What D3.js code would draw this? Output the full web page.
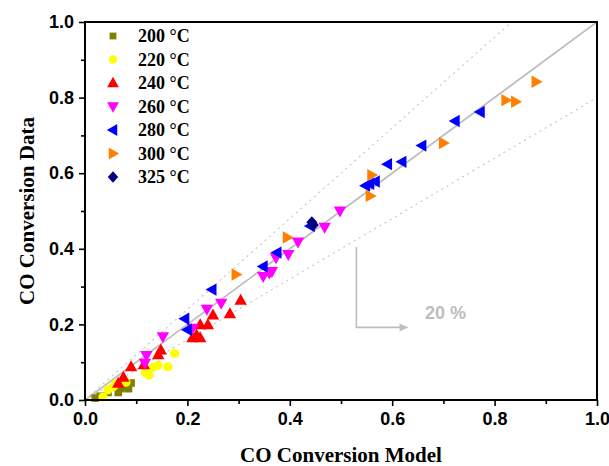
<!DOCTYPE html>
<html><head><meta charset="utf-8">
<script src="https://cdn.jsdelivr.net/npm/d3@7"></script>
<style>body{margin:0;background:#fff}</style>
</head><body>
<script>
// ---- data ----
const seriesNames = ["200 °C","220 °C","240 °C","260 °C","280 °C","300 °C","325 °C"];
const seriesColors = ["#808000","#ffff00","#ff0000","#ff00ff","#0000ff","#ff8000","#000080"];
const seriesShapes = ["square","circle","up","down","left","right","diamond"];
const xTickValues = [0,0.2,0.4,0.6,0.8,1.0];
const minorTickValues = [0.1,0.3,0.5,0.7,0.9];

const data200 = [[0.02,0.005],[0.03,0.01],[0.045,0.02],[0.065,0.02],[0.07,0.03],[0.08,0.035],[0.085,0.03],[0.09,0.045],[0.075,0.04]];
const data220 = [[0.035,0.008],[0.045,0.027],[0.055,0.035],[0.06,0.042],[0.08,0.047],[0.118,0.072],[0.125,0.066],[0.133,0.087],[0.143,0.091],[0.162,0.088],[0.175,0.123],[0.12,0.08]];
const data240 = [[0.065,0.044],[0.075,0.06],[0.09,0.088],[0.115,0.093],[0.143,0.12],[0.148,0.132],[0.21,0.165],[0.218,0.172],[0.225,0.165],[0.225,0.199],[0.24,0.199],[0.25,0.225],[0.283,0.228],[0.304,0.264]];
const data260 = [[0.117,0.097],[0.12,0.118],[0.152,0.167],[0.21,0.19],[0.238,0.24],[0.266,0.256],[0.348,0.327],[0.36,0.336],[0.365,0.34],[0.373,0.376],[0.397,0.385],[0.416,0.418],[0.468,0.457],[0.498,0.5]];
const data280 = [[0.195,0.215],[0.2,0.186],[0.248,0.292],[0.348,0.353],[0.375,0.39],[0.44,0.46],[0.548,0.567],[0.556,0.572],[0.567,0.578],[0.591,0.624],[0.619,0.63],[0.658,0.673],[0.723,0.738],[0.772,0.762]];
const data300 = [[0.295,0.332],[0.395,0.43],[0.557,0.54],[0.56,0.595],[0.7,0.68],[0.822,0.793],[0.841,0.789],[0.881,0.842]];
const data325 = [[0.443,0.47],[0.446,0.463]];
const allData = [data200,data220,data240,data260,data280,data300,data325];

// ---- layout ----
const W = 609, H = 466;
const x = d3.scaleLinear().domain([0,1]).range([85,597]);
const y = d3.scaleLinear().domain([0,1]).range([400,22]);

const svg = d3.select("body").append("svg").attr("width",W).attr("height",H);

function shapePath(shape){
  switch(shape){
    case "square": return "M-3.8,-3.8h7.6v7.6h-7.6Z";
    case "circle": return "M4.6,0A4.6,4.6 0 1 1 -4.6,0A4.6,4.6 0 1 1 4.6,0Z";
    case "up": return "M0,-6.5L6.2,4.5L-6.2,4.5Z";
    case "down": return "M0,6.5L6.2,-4.5L-6.2,-4.5Z";
    case "left": return "M-6.5,0L4.5,-6.2L4.5,6.2Z";
    case "right": return "M6.5,0L-4.5,-6.2L-4.5,6.2Z";
    case "diamond": return "M0,-6L5.5,0L0,6L-5.5,0Z";
  }
}

// reference lines
const g = svg.append("g");
g.append("clipPath").attr("id","clip").append("rect")
  .attr("x",x(0)).attr("y",y(1)).attr("width",x(1)-x(0)).attr("height",y(0)-y(1));
const refs = [{k:1.2,dash:"2,4",col:"#c8c8c8",w:1.2},{k:0.8,dash:"2,4",col:"#c8c8c8",w:1.2},{k:1,dash:null,col:"#bdbdbd",w:1.8}];
refs.forEach(r=>{
  g.append("line").attr("clip-path","url(#clip)")
   .attr("x1",x(0)).attr("y1",y(0)).attr("x2",x(1)).attr("y2",y(r.k))
   .attr("stroke",r.col).attr("stroke-width",r.w).attr("stroke-dasharray",r.dash);
});

// 20 % annotation
const ann = svg.append("g").attr("stroke","#bdbdbd").attr("stroke-width",1.6).attr("fill","none");
ann.append("path").attr("d",`M${x(0.53)},${y(0.405)}V${y(0.192)}H${x(0.63)}`);
ann.append("path").attr("d",`M${x(0.63)-8},${y(0.192)-4}L${x(0.63)},${y(0.192)}L${x(0.63)-8},${y(0.192)+4}`).attr("fill","#bdbdbd").attr("stroke","none");
svg.append("text").attr("x",x(0.664)).attr("y",y(0.232)).attr("dy","0.35em")
  .attr("font-family","Arial, Liberation Sans, sans-serif").attr("font-weight","bold")
  .attr("font-size",18).attr("fill","#bdbdbd").text("20 %");

// points
allData.forEach((arr,i)=>{
  svg.append("g").selectAll("path").data(arr).join("path")
    .attr("transform",d=>`translate(${x(d[0])},${y(d[1])})`)
    .attr("d",shapePath(seriesShapes[i]))
    .attr("fill",seriesColors[i]);
});

// axes
const fmt = d3.format(".1f");
const axFont = "Arial, Liberation Sans, sans-serif";
const xAxis = svg.append("g").attr("transform",`translate(0,${y(0)})`)
  .call(d3.axisBottom(x).tickValues(xTickValues).tickFormat(fmt).tickSize(6).tickPadding(6).tickSizeOuter(0));
const xMinor = svg.append("g").attr("transform",`translate(0,${y(0)})`)
  .call(d3.axisBottom(x).tickValues(minorTickValues).tickFormat("").tickSize(4).tickSizeOuter(0));
const yAxis = svg.append("g").attr("transform",`translate(${x(0)},0)`)
  .call(d3.axisLeft(y).tickValues(xTickValues).tickFormat(fmt).tickSize(6).tickPadding(5).tickSizeOuter(0));
const yMinor = svg.append("g").attr("transform",`translate(${x(0)},0)`)
  .call(d3.axisLeft(y).tickValues(minorTickValues).tickFormat("").tickSize(4).tickSizeOuter(0));
[xAxis,xMinor,yAxis,yMinor].forEach(a=>{
  a.select(".domain").remove();
  a.selectAll("line").attr("stroke","#000").attr("stroke-width",1.6);
  a.selectAll("text").attr("font-family",axFont).attr("font-weight","bold").attr("font-size",18).attr("fill","#000");
});

// frame
svg.append("rect").attr("x",x(0)).attr("y",y(1)).attr("width",x(1)-x(0)).attr("height",y(0)-y(1))
  .attr("fill","none").attr("stroke","#000").attr("stroke-width",2);

// axis titles
const serif = "'Liberation Serif','Times New Roman',serif";
svg.append("text").attr("x",(x(0)+x(1))/2).attr("y",462).attr("text-anchor","middle")
  .attr("font-family",serif).attr("font-weight","bold").attr("font-size",21).text("CO Conversion Model");
svg.append("text").attr("transform",`translate(34,${(y(0)+y(1))/2}) rotate(-90)`).attr("text-anchor","middle")
  .attr("font-family",serif).attr("font-weight","bold").attr("font-size",21).text("CO Conversion Data");

// legend
const leg = svg.append("g");
seriesNames.forEach((name,i)=>{
  const ly = 36 + i*23.5;
  leg.append("path").attr("transform",`translate(113,${ly}) scale(${seriesShapes[i]==="square"||seriesShapes[i]==="circle"?0.9:0.95})`)
    .attr("d",shapePath(seriesShapes[i])).attr("fill",seriesColors[i]);
  leg.append("text").attr("x",138).attr("y",ly).attr("dy","0.35em")
    .attr("font-family",serif).attr("font-weight","bold").attr("font-size",18).text(name);
});
</script>
</body></html>
